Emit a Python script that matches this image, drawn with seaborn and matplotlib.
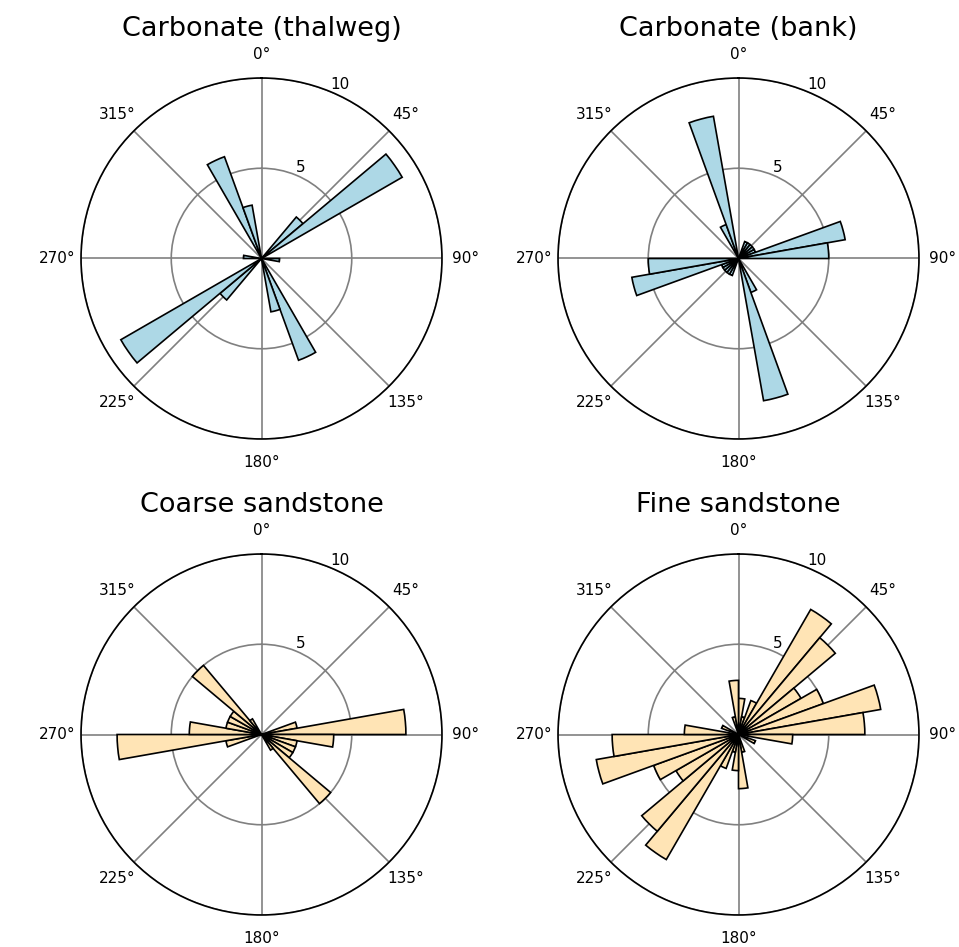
import numpy as np
import matplotlib
matplotlib.use("Agg")
import matplotlib.pyplot as plt
import seaborn as sns

# ---- data (counts per 10-degree bin, starting at 0 deg, clockwise from north) ----
bin_start_deg = list(range(0, 360, 10))

titles = ["Carbonate (thalweg)", "Carbonate (bank)", "Coarse sandstone", "Fine sandstone"]

thalweg = [0, 0, 0, 0, 3, 9, 0, 0, 0, 1, 0, 0, 0, 0, 0, 6, 3, 0,
           0, 0, 0, 0, 3, 9, 0, 0, 0, 1, 0, 0, 0, 0, 0, 6, 3, 0]
bank = [0, 0, 1, 1, 1, 1, 1, 6, 5, 0, 0, 0, 0, 0, 0, 2, 8, 0,
        0, 0, 1, 1, 1, 1, 1, 6, 5, 0, 0, 0, 0, 0, 0, 2, 8, 0]
coarse = [0, 0, 0, 0, 0, 0, 0, 2, 8, 4, 2, 2, 2, 5, 1, 0, 0, 0,
          0, 0, 0, 0, 0, 0, 0, 2, 8, 4, 2, 2, 2, 5, 1, 0, 0, 0]
fine = [2, 1, 2, 8, 7, 4, 5, 8, 7, 3, 0, 1, 0, 0, 0, 0, 1, 3,
        2, 1, 2, 8, 7, 4, 5, 8, 7, 3, 0, 1, 0, 0, 0, 0, 1, 3]

series = [thalweg, bank, coarse, fine]
colors = ["lightblue", "lightblue", "moccasin", "moccasin"]

r_ticks = [5, 10]
r_max = 10
theta_ticks_deg = [0, 45, 90, 135, 180, 225, 270, 315]

# ---- style ----
sns.set_theme(style="white")
plt.rcParams["font.family"] = ["DejaVu Sans"]
plt.rcParams["text.color"] = "black"

W, H = 959, 947
fig = plt.figure(figsize=(W / 100, H / 100), dpi=100)

size_px = 361
lefts = [81, 558]
tops = [78, 554]
rects = []
for t in tops:
    for l in lefts:
        rects.append([l / W, 1 - (t + size_px) / H, size_px / W, size_px / H])

bin_width = np.deg2rad(10)
theta = np.deg2rad(np.array(bin_start_deg) + 5)

for rect, title, vals, col in zip(rects, titles, series, colors):
    ax = fig.add_axes(rect, projection="polar")
    ax.set_theta_zero_location("N")
    ax.set_theta_direction(-1)
    ax.bar(theta, vals, width=bin_width, color=col, edgecolor="black",
           linewidth=1.2, align="center", zorder=3)
    ax.set_ylim(0, r_max)
    ax.set_yticks(r_ticks)
    ax.set_yticklabels([str(v) for v in r_ticks])
    ax.set_rlabel_position(22.5)
    ax.set_thetagrids(theta_ticks_deg, [f"{d}°" for d in theta_ticks_deg])
    ax.grid(True, color="gray", linewidth=1.2)
    ax.set_axisbelow(True)
    ax.tick_params(axis="both", labelsize=11, colors="black", pad=4)
    ax.spines["polar"].set_color("black")
    ax.spines["polar"].set_linewidth(1.2)
    ax.set_title(title, fontsize=19.5, pad=8, color="black")

fig.savefig("out.png", dpi=100)
